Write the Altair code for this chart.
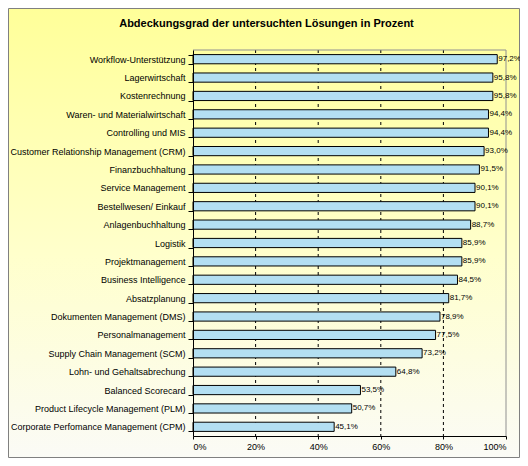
import altair as alt
import pandas as pd

categories = [
    "Workflow-Unterstützung",
    "Lagerwirtschaft",
    "Kostenrechnung",
    "Waren- und Materialwirtschaft",
    "Controlling und MIS",
    "Customer Relationship Management (CRM)",
    "Finanzbuchhaltung",
    "Service Management",
    "Bestellwesen/ Einkauf",
    "Anlagenbuchhaltung",
    "Logistik",
    "Projektmanagement",
    "Business Intelligence",
    "Absatzplanung",
    "Dokumenten Management (DMS)",
    "Personalmanagement",
    "Supply Chain Management (SCM)",
    "Lohn- und Gehaltsabrechung",
    "Balanced Scorecard",
    "Product Lifecycle Management (PLM)",
    "Corporate Perfomance Management (CPM)",
]
values = [97.2, 95.8, 95.8, 94.4, 94.4, 93.0, 91.5, 90.1, 90.1, 88.7, 85.9,
          85.9, 84.5, 81.7, 78.9, 77.5, 73.2, 64.8, 53.5, 50.7, 45.1]
tick_values = [0, 20, 40, 60, 80, 100]
grid_values = [20, 40, 60, 80]

df = pd.DataFrame({
    "category": categories,
    "value": values,
    "label": [f"{v:.1f}%".replace(".", ",") for v in values],
})
grid_df = pd.DataFrame({"v": grid_values})
frame_df = pd.DataFrame({"v": [100]})

FONT = "Liberation Sans"
W, H = 313, 386
PAD = {"left": 185, "top": 42, "right": 14, "bottom": 22}

background = alt.Chart(alt.Data(values=[{}])).mark_rect(
    color=alt.Gradient(
        gradient="linear",
        stops=[alt.GradientStop(color="#FFFF99", offset=0),
               alt.GradientStop(color="#FFFFCC", offset=0.55),
               alt.GradientStop(color="#FBFBF6", offset=1)],
        x1=0, x2=0, y1=0, y2=1,
    ),
    stroke="#808080",
    strokeWidth=1,
).encode(
    x=alt.value(-PAD["left"] + 0.5),
    x2=alt.value(W + PAD["right"] - 0.5),
    y=alt.value(-PAD["top"] + 0.5),
    y2=alt.value(H + PAD["bottom"] - 0.5),
)

x_scale = alt.Scale(domain=[0, 100], nice=False)

grid = alt.Chart(grid_df).mark_rule(
    color="#000000", strokeDash=[3, 3], strokeWidth=1
).encode(x=alt.X("v:Q", scale=x_scale))

frame_right = alt.Chart(frame_df).mark_rule(
    color="#909090", strokeWidth=1
).encode(x=alt.X("v:Q", scale=x_scale))
frame_top = alt.Chart(frame_df).mark_rule(
    color="#909090", strokeWidth=1
).encode(y=alt.value(0))

base = alt.Chart(df)

x_enc = alt.X(
    "value:Q",
    scale=x_scale,
    axis=alt.Axis(
        values=tick_values,
        labelExpr="datum.value + '%'",
        title=None,
        grid=False,
        domainColor="#000000",
        tickColor="#000000",
        tickSize=3,
        labelFont=FONT,
        labelFontSize=9,
        labelColor="#000000",
        labelPadding=3,
        zindex=1,
    ),
)
y_enc = alt.Y(
    "category:N",
    sort=categories,
    scale=alt.Scale(paddingInner=0.5, paddingOuter=0.25),
    axis=alt.Axis(
        title=None,
        tickBand="extent",
        tickSize=5,
        tickColor="#000000",
        domainColor="#000000",
        labelFont=FONT,
        labelFontSize=9,
        labelColor="#000000",
        labelPadding=3,
        labelLimit=300,
        zindex=1,
    ),
)

bars = base.mark_bar(
    fill="#B3DFF2",
    stroke="#000000",
    strokeWidth=1,
).encode(x=x_enc, y=y_enc)

text = base.mark_text(
    align="left",
    baseline="middle",
    dx=1,
    font=FONT,
    fontSize=8,
    color="#000000",
).encode(x="value:Q", y=alt.Y("category:N", sort=categories), text="label:N")

chart = alt.layer(background, grid, frame_right, frame_top, bars, text).properties(
    width=W,
    height=H,
    autosize=alt.AutoSizeParams(type="none"),
    padding=PAD,
    title=alt.TitleParams(
        "Abdeckungsgrad der untersuchten Lösungen in Prozent",
        font=FONT,
        fontSize=11,
        fontWeight="bold",
        color="#000000",
        anchor="middle",
        baseline="middle",
        dx=-83,
        offset=0,
        dy=27,
    ),
).configure_view(stroke=None).configure(background="#FFFFFF")

chart.save("out.html", embed_options={"renderer": "svg", "actions": False})
